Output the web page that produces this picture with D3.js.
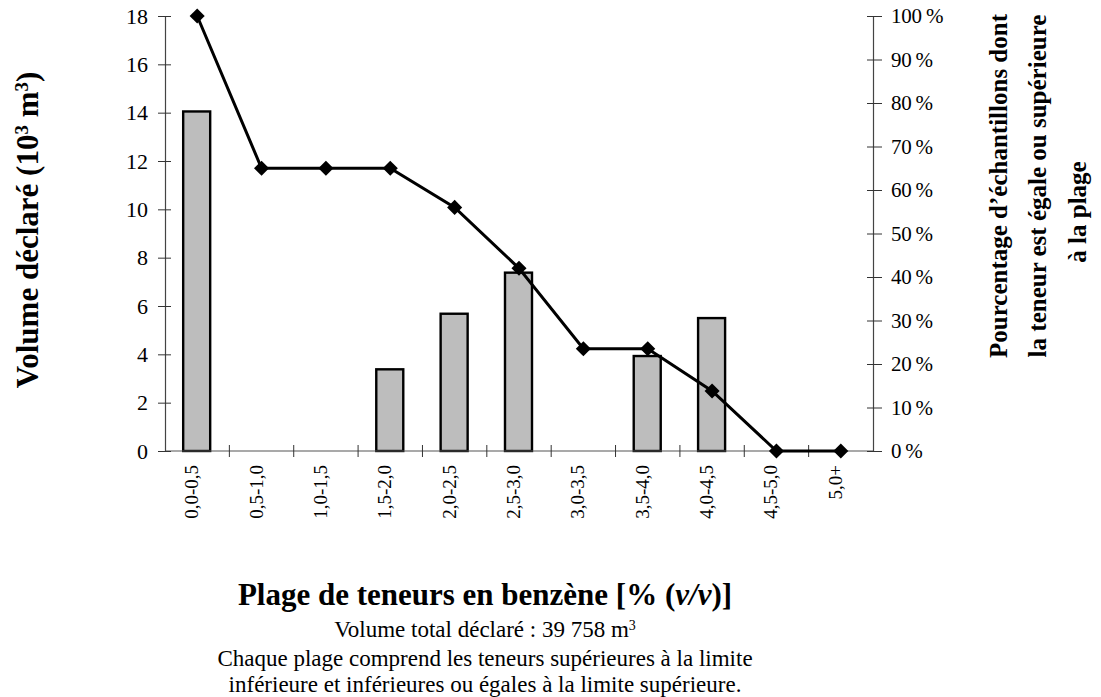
<!DOCTYPE html>
<html>
<head>
<meta charset="utf-8">
<script src="https://cdn.jsdelivr.net/npm/d3@7"></script>
<style>
  body { margin: 0; background: #fff; }
  text { font-family: "Liberation Serif", "Times New Roman", serif; fill: #000; }
</style>
</head>
<body>
<svg id="chart" width="1101" height="697"></svg>
<script>
// data
const categories = ["0,0-0,5", "0,5-1,0", "1,0-1,5", "1,5-2,0", "2,0-2,5", "2,5-3,0",
                    "3,0-3,5", "3,5-4,0", "4,0-4,5", "4,5-5,0", "5,0+"];
const volumes = [14.05, 0, 0, 3.38, 5.68, 7.38, 0, 3.93, 5.5, 0, 0];   // 10^3 m3
const percentAbove = [100, 65, 65, 65, 56, 42, 23.5, 23.5, 13.8, 0, 0];  // %
const leftTicks = [0, 2, 4, 6, 8, 10, 12, 14, 16, 18];
const rightTicks = [0, 10, 20, 30, 40, 50, 60, 70, 80, 90, 100];

const svg = d3.select("#chart");
const plotLeft = 165, plotRight = 873, plotTop = 16, plotBottom = 451;

const x = d3.scaleBand().domain(categories).range([plotLeft, plotRight]);
const yL = d3.scaleLinear().domain([0, 18]).range([plotBottom, plotTop]);
const yR = d3.scaleLinear().domain([0, 100]).range([plotBottom, plotTop]);

// bars
svg.append("g").selectAll("rect")
  .data(categories.map((c, i) => ({ c, v: volumes[i] })).filter(d => d.v > 0))
  .enter().append("rect")
  .attr("x", d => x(d.c) + x.bandwidth() / 2 - 14)
  .attr("width", 27)
  .attr("y", d => yL(d.v))
  .attr("height", d => yL(0) - yL(d.v))
  .attr("fill", "#bdbdbd")
  .attr("stroke", "#000")
  .attr("stroke-width", 2.4);

// x axis line with ticks at band edges
svg.append("line").attr("x1", plotLeft).attr("x2", plotRight).attr("y1", plotBottom).attr("y2", plotBottom)
  .attr("stroke", "#555").attr("stroke-width", 1.2);
svg.append("g").selectAll("line")
  .data(categories.slice(1))
  .enter().append("line")
  .attr("x1", d => x(d)).attr("x2", d => x(d))
  .attr("y1", plotBottom - 6).attr("y2", plotBottom + 6)
  .attr("stroke", "#333").attr("stroke-width", 1);

// x tick labels
svg.append("g").selectAll("text")
  .data(categories)
  .enter().append("text")
  .attr("transform", d => `translate(${x(d) + x.bandwidth() / 2 + 1},${plotBottom + 14}) rotate(-90)`)
  .attr("text-anchor", "end")
  .style("font-size", "19px")
  .text(d => d);

// left axis
const axL = svg.append("g").attr("transform", `translate(${plotLeft},0)`)
  .call(d3.axisLeft(yL).tickValues(leftTicks).tickSize(0).tickPadding(17));
axL.select(".domain").attr("stroke", "#444").attr("stroke-width", 1.2);
axL.selectAll("text").style("font-size", "22px").style("font-family", "Liberation Serif");
axL.selectAll(".tick line").attr("x1", -7).attr("x2", 6).attr("stroke", "#333");

// right axis
const axR = svg.append("g").attr("transform", `translate(${plotRight},0)`)
  .call(d3.axisRight(yR).tickValues(rightTicks).tickSize(0).tickPadding(18)
    .tickFormat(d => d + "\u2009%"));
axR.select(".domain").attr("stroke", "#444").attr("stroke-width", 1.2);
axR.selectAll("text").style("font-size", "21px").style("font-family", "Liberation Serif")
  .style("letter-spacing", "-0.2px");
axR.selectAll(".tick line").attr("x1", -6).attr("x2", 9).attr("stroke", "#333");

// percentage line
const pts = categories.map((c, i) => [x(c) + x.bandwidth() / 2, yR(percentAbove[i])]);
svg.append("path")
  .attr("d", d3.line()(pts))
  .attr("fill", "none").attr("stroke", "#000").attr("stroke-width", 3);
svg.append("g").selectAll("path")
  .data(pts).enter().append("path")
  .attr("d", d3.symbol(d3.symbolDiamond2, 145)())
  .attr("transform", d => `translate(${d[0]},${d[1]})`)
  .attr("fill", "#000");

// left title
const lt = svg.append("text")
  .attr("transform", `translate(38,230) rotate(-90)`)
  .attr("text-anchor", "middle")
  .style("font-size", "31px").style("font-weight", "bold");
lt.append("tspan").text("Volume déclaré (10");
lt.append("tspan").attr("baseline-shift", "super").style("font-size", "19px").text("3");
lt.append("tspan").text(" m");
lt.append("tspan").attr("baseline-shift", "super").style("font-size", "19px").text("3");
lt.append("tspan").text(")");

// right title
const rLines = ["Pourcentage d\u2019échantillons dont", "la teneur est égale ou supérieure", "à la plage"];
const rPos = [[1007, 186], [1046, 186], [1086, 212]];
svg.append("g").selectAll("text")
  .data(rLines).enter().append("text")
  .attr("transform", (d, i) => `translate(${rPos[i][0]},${rPos[i][1]}) rotate(-90)`)
  .attr("text-anchor", "middle")
  .style("font-size", "25px").style("font-weight", "bold")
  .text(d => d);

// bottom texts
const bt = svg.append("text").attr("x", 485).attr("y", 605).attr("text-anchor", "middle")
  .style("font-size", "31px").style("font-weight", "bold");
bt.append("tspan").text("Plage de teneurs en benzène [% (");
bt.append("tspan").style("font-style", "italic").text("v/v");
bt.append("tspan").text(")]");

const t2 = svg.append("text").attr("x", 485).attr("y", 637).attr("text-anchor", "middle")
  .style("font-size", "23px");
t2.append("tspan").text("Volume total déclaré : 39 758 m");
t2.append("tspan").attr("baseline-shift", "super").style("font-size", "14px").text("3");

svg.append("text").attr("x", 485).attr("y", 666).attr("text-anchor", "middle")
  .style("font-size", "23px")
  .text("Chaque plage comprend les teneurs supérieures à la limite");
svg.append("text").attr("x", 485).attr("y", 692).attr("text-anchor", "middle")
  .style("font-size", "23px")
  .text("inférieure et inférieures ou égales à la limite supérieure.");
</script>
</body>
</html>
